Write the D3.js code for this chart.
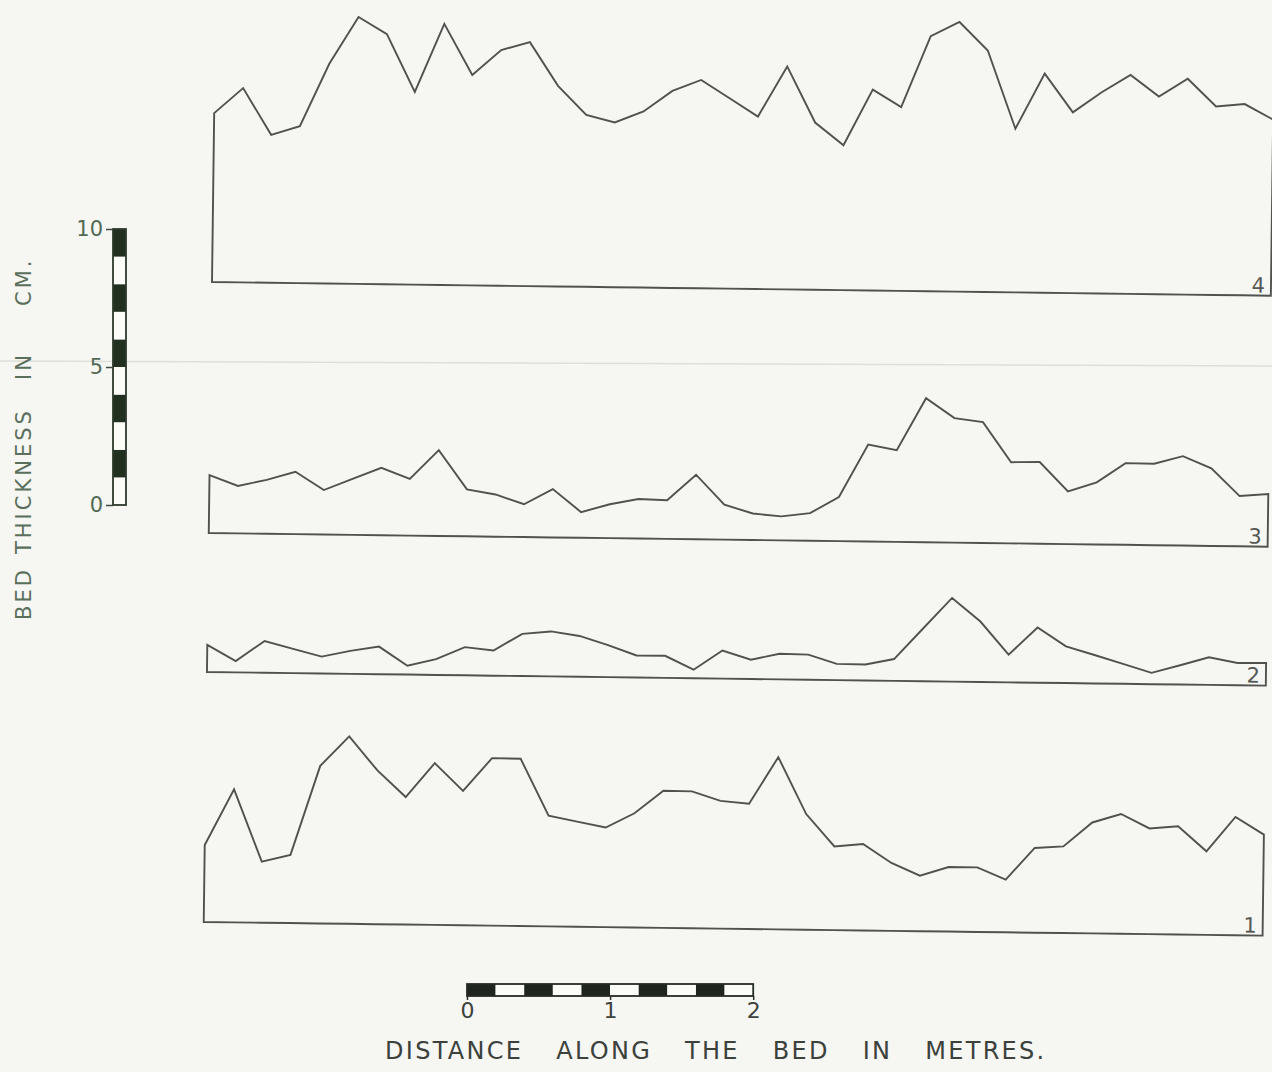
<!DOCTYPE html>
<html><head><meta charset="utf-8">
<script src="https://cdn.jsdelivr.net/npm/d3@7"></script>
<style>html,body{margin:0;padding:0;background:#f6f6f3;} svg{display:block}</style>
</head><body>
<svg id="chart" width="1272" height="1072"></svg>
<script>
const distance = [0,0.2,0.4,0.6,0.8,1.0,1.2,1.4,1.6,1.8,2.0,2.2,2.4,2.6,2.8,3.0,3.2,3.4,3.6,3.8,
                  4.0,4.2,4.4,4.6,4.8,5.0,5.2,5.4,5.6,5.8,6.0,6.2,6.4,6.6,6.8,7.0,7.2,7.4];
const profileNames = ["4","3","2","1"];
const profile4 = [6.12,7.04,5.36,5.69,7.96,9.67,9.06,6.98,9.46,7.62,8.54,8.84,7.27,6.23,5.97,6.38,7.14,7.55,6.90,6.25,
                  8.08,6.06,5.25,7.28,6.66,9.24,9.77,8.75,5.93,7.94,6.55,7.29,7.93,7.16,7.82,6.83,6.93,6.38];
const profile3 = [2.10,1.72,1.95,2.26,1.61,2.03,2.44,2.05,3.11,1.70,1.53,1.19,1.75,0.93,1.23,1.43,1.40,2.34,1.27,0.96,
                  0.87,1.00,1.60,3.51,3.32,5.22,4.51,4.38,2.94,2.96,1.91,2.25,2.96,2.95,3.24,2.81,1.82,1.91];
const profile2 = [0.98,0.41,1.15,0.88,0.61,0.83,1.00,0.32,0.57,1.02,0.91,1.53,1.63,1.48,1.16,0.80,0.80,0.31,1.02,0.70,
                  0.93,0.91,0.59,0.58,0.79,1.91,3.03,2.19,1.00,2.00,1.33,1.03,0.72,0.41,0.70,1.00,0.81,0.82];
const profile1 = [2.79,4.82,2.21,2.47,5.71,6.79,5.57,4.62,5.86,4.87,6.07,6.06,4.01,3.81,3.61,4.14,4.97,4.96,4.63,4.54,
                  6.24,4.19,3.03,3.13,2.46,2.01,2.34,2.34,1.91,3.07,3.14,4.02,4.34,3.83,3.92,3.03,4.29,3.66];
const thicknessTicks = [0,5,10];
const distanceTicks = [0,1,2];
const yTitle = "BED THICKNESS IN CM.";
const xTitle = "DISTANCE ALONG THE BED IN METRES.";

// ---- layout ----
const W = 1272, H = 1072;
const PX_PER_CM = 27.6, PX_PER_M = 143.1;
const baselines = [282, 533, 672, 922];
const series = [profile4, profile3, profile2, profile1];
const lineColor = "#505250";
const inkGreen = "#22301f";
const yTitleWordOffsets = [0, 66, 240, 314];

const svg = d3.select("#chart");
svg.append("rect").attr("width", W).attr("height", H).attr("fill", "#f6f6f3");
// faint crease of the scanned sheet
svg.append("line").attr("x1", 0).attr("x2", W).attr("y1", 361).attr("y2", 366)
  .attr("stroke", "#dedfdb").attr("stroke-width", 1.5);

const x = d3.scaleLinear().domain([0, 7.4]).range([212, 212 + 7.4 * PX_PER_M]);
const g = svg.append("g").attr("transform", "rotate(0.74,211,282)");

series.forEach((vals, k) => {
  const base = baselines[k];
  const y = d3.scaleLinear().domain([0, 10]).range([base, base - 10 * PX_PER_CM]);
  const area = d3.area()
    .x((d, i) => x(distance[i]))
    .y0(y(0))
    .y1(d => y(d));
  g.append("path").attr("d", area(vals))
    .attr("fill", "none").attr("stroke", lineColor).attr("stroke-width", 1.9)
    .attr("stroke-linejoin", "miter");
  g.append("text")
    .attr("x", x(7.4) - 6).attr("y", y(0) - 3)
    .attr("text-anchor", "end")
    .attr("font-family", "DejaVu Sans, sans-serif").attr("font-size", 21)
    .attr("fill", "#555855")
    .text(profileNames[k]);
});

// ---- vertical thickness scale bar ----
const yBar = d3.scaleLinear().domain([0, 10]).range([505, 505 - 10 * PX_PER_CM]);
const vb = svg.append("g");
vb.selectAll("rect.seg").data(d3.range(10)).join("rect")
  .attr("x", 113).attr("width", 13)
  .attr("y", i => yBar(i + 1)).attr("height", i => yBar(i) - yBar(i + 1))
  .attr("fill", i => i % 2 === 1 ? inkGreen : "#fbfbf8");
vb.append("rect").attr("x", 113).attr("y", yBar(10)).attr("width", 13).attr("height", yBar(0) - yBar(10))
  .attr("fill", "none").attr("stroke", "#2e3a2d").attr("stroke-width", 1.8);
const axY = vb.append("g").attr("transform", "translate(113,0)")
  .call(d3.axisLeft(yBar).tickValues(thicknessTicks).tickSize(7).tickPadding(3).tickFormat(d3.format("d")));
axY.select(".domain").remove();
axY.selectAll("line").attr("stroke", "#3d4a3c").attr("stroke-width", 1.5);
axY.selectAll("text").attr("font-family", "DejaVu Sans, sans-serif").attr("font-size", 21)
  .attr("fill", "#526a55");

const yt = svg.append("text")
  .attr("transform", "translate(31,620) rotate(-90)")
  .attr("font-family", "DejaVu Sans, sans-serif").attr("font-size", 21)
  .attr("letter-spacing", 3)
  .attr("fill", "#5a705c");
yt.selectAll("tspan").data(yTitle.split(" ")).join("tspan")
  .attr("x", (d, i) => yTitleWordOffsets[i]).attr("y", 0)
  .text(d => d);

// ---- horizontal distance scale bar ----
const xBar = d3.scaleLinear().domain([0, 2]).range([467, 467 + 2 * PX_PER_M]);
const hb = svg.append("g");
const segs = d3.range(10).map(i => i * 0.2);
hb.selectAll("rect.seg").data(segs).join("rect")
  .attr("x", d => xBar(d)).attr("width", d => xBar(d + 0.2) - xBar(d))
  .attr("y", 984).attr("height", 12)
  .attr("fill", (d, i) => i % 2 === 0 ? "#1f241f" : "#fbfbf8");
hb.append("rect").attr("x", xBar(0)).attr("y", 984).attr("width", xBar(2) - xBar(0)).attr("height", 12)
  .attr("fill", "none").attr("stroke", "#262b26").attr("stroke-width", 1.8);
const axX = hb.append("g").attr("transform", "translate(0,996)")
  .call(d3.axisBottom(xBar).tickValues(distanceTicks).tickSize(4).tickPadding(2).tickFormat(d3.format("d")));
axX.select(".domain").remove();
axX.selectAll("line").attr("stroke", "#2a2f2a").attr("stroke-width", 1.5);
axX.selectAll("text").attr("font-family", "DejaVu Sans, sans-serif").attr("font-size", 22)
  .attr("fill", "#3d423d");

svg.append("text")
  .attr("x", 385).attr("y", 1059)
  .attr("font-family", "DejaVu Sans, sans-serif").attr("font-size", 24)
  .attr("letter-spacing", 2.3).attr("word-spacing", 23)
  .attr("fill", "#3c413c")
  .text(xTitle);
</script>
</body></html>
